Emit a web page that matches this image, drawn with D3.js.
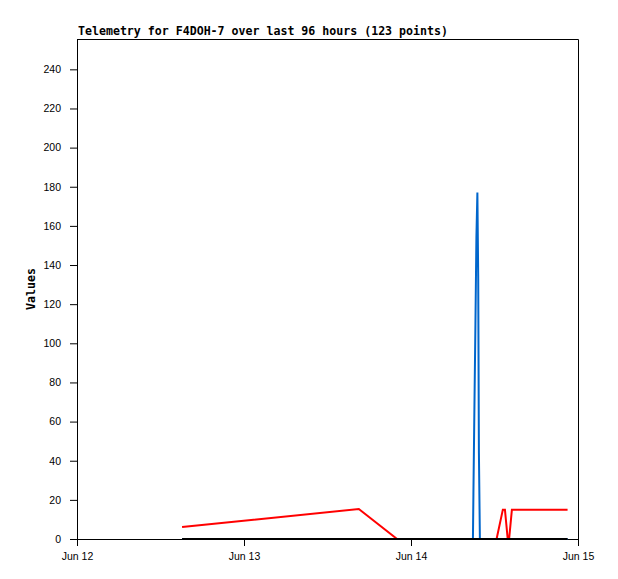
<!DOCTYPE html>
<html>
  <head>
    <script src="https://d3js.org/d3.v7.min.js"></script>
    <style>
      body { margin: 0; background: #fff; }
      .tick text { font-family: "Liberation Sans", sans-serif; font-size: 10.5px; fill: #000; }
    </style>
  </head>
  <body>
    <script>

      // hours since Jun 12 00:00, value
      var redHours   = [15.1, 40.5, 46.0, 60.3, 61.2, 61.5, 61.9, 62.1, 62.5, 70.5];
      var redValues  = [6.1, 15.3, 0, 0, 15, 15, 0, 0, 15, 15];

      var blueHours  = [15.1, 56.90, 56.97, 57.11, 57.26, 57.40, 57.54, 57.66, 57.76, 57.90, 70.5];
      var blueValues = [0, 0, 23, 66, 110, 154, 177, 133, 44, 0, 0];

      var blackHours  = [15.1, 70.5];
      var blackValues = [0, 0];

      var yTicks = [0, 20, 40, 60, 80, 100, 120, 140, 160, 180, 200, 220, 240];
      var dayLabels = ["Jun 12", "Jun 13", "Jun 14", "Jun 15"];

      var title = "Telemetry for F4DOH-7 over last 96 hours (123 points)";

      var margin = {top: 39, right: 40, bottom: 40, left: 77};
      var w = 618 - margin.left - margin.right;
      var h = 579 - margin.top - margin.bottom;

      var t0 = new Date(2024, 5, 12);
      function toDate(hr) { return new Date(t0.getTime() + hr * 3600000); }

      var svg = d3.select("body")
        .append("svg")
        .attr("width", 618)
        .attr("height", 579);

      svg.append("text")
        .attr("x", 78)
        .attr("y", 35)
        .style("font-family", "DejaVu Sans Mono, monospace")
        .style("font-weight", "bold")
        .style("font-size", "11.6px")
        .text(title);

      var g = svg.append("g")
        .attr("transform", `translate(${margin.left},${margin.top})`);

      var x = d3.scaleTime()
        .domain([t0, toDate(72)])
        .range([0, w]);

      var y = d3.scaleLinear()
        .domain([0, 255.5])
        .range([h, 0]);

      // frame top + right
      g.append("path")
        .attr("d", `M0,0.5H${w + 0.5}V${h}`)
        .attr("fill", "none")
        .attr("stroke", "#000");

      var xAxis = d3.axisBottom(x)
        .tickValues(dayLabels.map(function(d, i) { return toDate(i * 24); }))
        .tickFormat(function(d, i) { return dayLabels[i]; })
        .tickSize(7)
        .tickPadding(7);

      g.append("g")
        .attr("transform", `translate(0,${h})`)
        .call(xAxis)
        .call(function(a) { a.select(".domain").remove(); });

      var yAxis = d3.axisLeft(y)
        .tickValues(yTicks)
        .tickSize(7)
        .tickPadding(9);

      g.append("g")
        .call(yAxis)
        .call(function(a) { a.select(".domain").remove(); });

      g.append("line")
        .attr("x1", 0.5).attr("x2", 0.5)
        .attr("y1", 0).attr("y2", h)
        .attr("stroke", "#000");
      g.append("line")
        .attr("x1", 0).attr("x2", w)
        .attr("y1", h + 0.5).attr("y2", h + 0.5)
        .attr("stroke", "#000");

      svg.append("text")
        .attr("transform", "translate(35,289) rotate(-90)")
        .attr("text-anchor", "middle")
        .style("font-family", "DejaVu Sans Mono, monospace")
        .style("font-weight", "bold")
        .style("font-size", "11.6px")
        .text("Values");

      var line = d3.line()
        .x(function(d) { return x(toDate(d[0])); })
        .y(function(d) { return y(d[1]); });

      function draw(hours, values, color) {
        g.append("path")
          .datum(d3.zip(hours, values))
          .attr("fill", "none")
          .attr("stroke", color)
          .attr("stroke-width", 2)
          .attr("d", line);
      }

      draw(blueHours, blueValues, "#0066cc");
      draw(redHours, redValues, "#ff0000");
      draw(blackHours, blackValues, "#000000");

    </script>
  </body>
</html>
